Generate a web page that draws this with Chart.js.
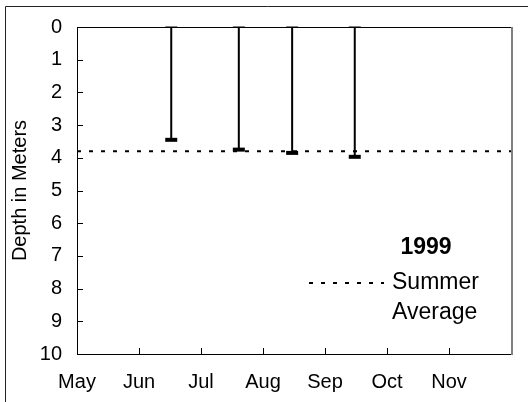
<!DOCTYPE html>
<html>
<head>
  <meta charset="utf-8" />
  <title>Depth 1999</title>
  <script src="https://cdn.jsdelivr.net/npm/chart.js"></script>
  <style>
    html, body { margin: 0; padding: 0; background: #fff; }
    #wrap { width: 528px; height: 402px; }
  </style>
</head>
<body>
  <div id="wrap"><canvas id="chart" width="528" height="402"></canvas></div>
  <script>
    // month labels along the bottom (0 = May ... 7 = Dec, unlabelled)
    var months = ['May', 'Jun', 'Jul', 'Aug', 'Sep', 'Oct', 'Nov'];
    // sampling dates as month positions, and depth range of each bar
    var sampleMonth = [1.52, 2.61, 3.47, 4.48];
    var topDepth = [0, 0, 0, 0];
    var bottomDepth = [3.45, 3.75, 3.85, 3.97];
    var summerAverage = 3.8;
    var yearLabel = '1999';
    var avgLabel = ['Summer', 'Average'];

    var FONT = "'Liberation Sans', Arial, sans-serif";
    Chart.defaults.font.family = FONT;
    Chart.defaults.color = '#000';

    var datasets = [];
    sampleMonth.forEach(function (m, i) {
      datasets.push({
        data: [{x: m, y: topDepth[i]}, {x: m, y: bottomDepth[i]}],
        borderColor: '#000',
        borderWidth: 2,
        pointStyle: 'line',
        pointRadius: 6,
        pointBorderWidth: [2, 4],
        pointBorderColor: ['#808080', '#000'],
        clip: false
      });
    });
    datasets.push({
      data: [{x: 0, y: summerAverage}, {x: months.length, y: summerAverage}],
      borderColor: '#000',
      borderWidth: 2,
      borderDash: [4, 8],
      pointRadius: 0
    });

    var framePlugin = {
      id: 'frame',
      beforeDraw: function (chart) {
        var ctx = chart.ctx;
        ctx.save();
        ctx.strokeStyle = '#222';
        ctx.lineWidth = 1;
        ctx.beginPath();
        ctx.moveTo(5.5, 700); ctx.lineTo(5.5, 6.5); ctx.lineTo(700, 6.5);
        ctx.stroke();
        ctx.restore();
      },
      afterDatasetsDraw: function (chart) {
        var ctx = chart.ctx, a = chart.chartArea;
        var xs = chart.scales.x, ys = chart.scales.y;
        ctx.save();
        ctx.strokeStyle = '#000';
        ctx.lineWidth = 1;
        ctx.beginPath();
        ctx.moveTo(a.left + 0.5, a.top + 0.5);
        ctx.lineTo(a.right, a.top + 0.5);
        ctx.moveTo(a.left + 0.5, a.top);
        ctx.lineTo(a.left + 0.5, a.bottom + 0.5);
        ctx.lineTo(a.right, a.bottom + 0.5);
        // inward tick marks
        ys.ticks.forEach(function (t) {
          var y = Math.round(ys.getPixelForValue(t.value)) + 0.5;
          ctx.moveTo(a.left, y); ctx.lineTo(a.left + 6, y);
        });
        xs.ticks.forEach(function (t) {
          var x = Math.round(xs.getPixelForValue(t.value)) + 0.5;
          ctx.moveTo(x, a.bottom); ctx.lineTo(x, a.bottom - 6);
        });
        ctx.stroke();
        ctx.strokeStyle = '#808080';
        ctx.lineWidth = 2;
        ctx.beginPath();
        ctx.moveTo(a.right + 1, a.top);
        ctx.lineTo(a.right + 1, a.bottom + 1);
        ctx.stroke();

        // text legend
        ctx.fillStyle = '#000';
        ctx.textBaseline = 'alphabetic';
        ctx.font = 'bold 23px ' + FONT;
        ctx.textAlign = 'center';
        ctx.fillText(yearLabel, 426, 254);
        ctx.font = '23px ' + FONT;
        ctx.textAlign = 'left';
        ctx.fillText(avgLabel[0], 392, 289);
        ctx.fillText(avgLabel[1], 392, 319);
        ctx.lineWidth = 2;
        ctx.strokeStyle = '#000';
        ctx.setLineDash([4, 8]);
        ctx.beginPath();
        ctx.moveTo(309, 283); ctx.lineTo(384, 283);
        ctx.stroke();
        ctx.restore();
      }
    };

    new Chart(document.getElementById('chart'), {
      type: 'line',
      data: { datasets: datasets },
      options: {
        responsive: false,
        animation: false,
        layout: { padding: { top: 27, right: 17, left: 0, bottom: 0 } },
        plugins: { legend: { display: false }, tooltip: { enabled: false } },
        scales: {
          x: {
            type: 'linear',
            min: 0,
            max: months.length,
            grid: { display: false, drawTicks: false },
            border: { display: false },
            ticks: {
              stepSize: 1,
              autoSkip: false,
              maxRotation: 0,
              padding: 16,
              font: { size: 20 },
              callback: function (v) { return months[v] || ''; }
            },
            afterFit: function (s) { s.height = 48; }
          },
          y: {
            type: 'linear',
            min: 0,
            max: 10,
            reverse: true,
            grid: { display: false, drawTicks: false },
            border: { display: false },
            ticks: { stepSize: 1, padding: 15, font: { size: 20 } },
            title: {
              display: true,
              text: 'Depth in Meters',
              font: { size: 20 },
              padding: { top: 8, bottom: 0 }
            },
            afterFit: function (s) { s.width = 77; }
          }
        }
      },
      plugins: [framePlugin]
    });
  </script>
</body>
</html>
